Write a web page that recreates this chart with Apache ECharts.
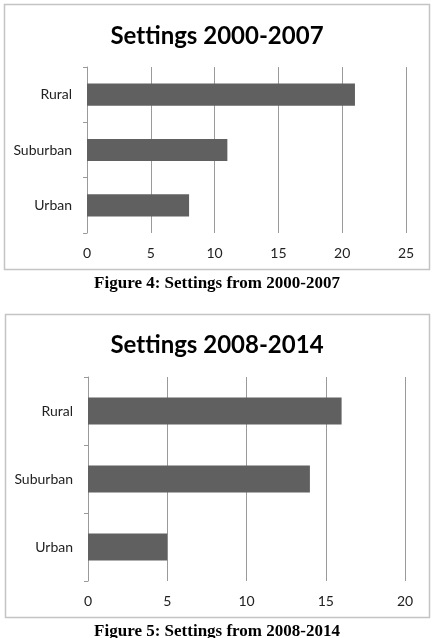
<!DOCTYPE html>
<html>
<head>
<meta charset="utf-8">
<script src="https://cdn.jsdelivr.net/npm/echarts@6/dist/echarts.min.js"></script>
<style>
  html, body { margin: 0; padding: 0; background: #fff; }
  #main { width: 434px; height: 638px; }
</style>
</head>
<body>
<div id="main"></div>
<script>
// settings per period, bottom to top as in the picture
var categories = ['Urban', 'Suburban', 'Rural'];
var values2000 = [8, 11, 21];
var values2008 = [5, 14, 16];
var ticks2000 = [0, 5, 10, 15, 20, 25];
var ticks2008 = [0, 5, 10, 15, 20];

var barColor = '#606060';
var lineColor = '#9a9a9a';
var labelFont = 'Lato, "Open Sans", sans-serif';

function valueAxis(gridIndex, ticks) {
  return {
    type: 'value', gridIndex: gridIndex,
    min: ticks[0], max: ticks[ticks.length - 1], interval: ticks[1] - ticks[0],
    axisLine: { show: false },
    axisTick: { show: false },
    splitLine: { show: true, lineStyle: { color: lineColor, width: 1 } },
    axisLabel: { color: '#222', fontSize: 14, fontFamily: labelFont, margin: 13 }
  };
}
function catAxis(gridIndex) {
  return {
    type: 'category', gridIndex: gridIndex, data: categories,
    axisLine: { show: true, lineStyle: { color: lineColor, width: 1 } },
    axisTick: { show: true, length: 4, lineStyle: { color: lineColor } },
    axisLabel: { color: '#222', fontSize: 14, fontFamily: labelFont, margin: 15 }
  };
}

// \u200C keeps the "tt" from turning into a ligature
var titleStyle = { fontFamily: labelFont, fontWeight: 'bold', fontSize: 24, color: '#000' };
var captionStyle = { fontFamily: '"Liberation Serif", serif', fontWeight: 'bold', fontSize: 17, color: '#000' };

var chart = echarts.init(document.getElementById('main'));
var option = {
  animation: false,
  title: [
    { text: 'Set\u200Ctings 2000-2007', left: 'center', top: 19, textStyle: titleStyle },
    { text: 'Set\u200Ctings 2008-2014', left: 'center', top: 328, textStyle: titleStyle },
    { text: 'Figure 4: Settings from 2000-2007', left: 'center', top: 270, textStyle: captionStyle },
    { text: 'Figure 5: Settings from 2008-2014', left: 'center', top: 618, textStyle: captionStyle }
  ],
  graphic: [
    { type: 'rect', shape: { x: 4.5, y: 4.5, width: 425, height: 265 },
      style: { fill: 'none', stroke: '#c4c4c4', lineWidth: 1.5 }, silent: true },
    { type: 'rect', shape: { x: 5.5, y: 314.5, width: 424, height: 303 },
      style: { fill: 'none', stroke: '#c4c4c4', lineWidth: 1.5 }, silent: true }
  ],
  grid: [
    { left: 87, right: 28, top: 67, height: 166 },
    { left: 88, right: 29, top: 377, height: 204 }
  ],
  xAxis: [valueAxis(0, ticks2000), valueAxis(1, ticks2008)],
  yAxis: [catAxis(0), catAxis(1)],
  series: [
    { type: 'bar', xAxisIndex: 0, yAxisIndex: 0, data: values2000,
      barWidth: '40%', itemStyle: { color: barColor } },
    { type: 'bar', xAxisIndex: 1, yAxisIndex: 1, data: values2008,
      barWidth: '40%', itemStyle: { color: barColor } }
  ]
};
chart.setOption(option);
</script>
</body>
</html>
